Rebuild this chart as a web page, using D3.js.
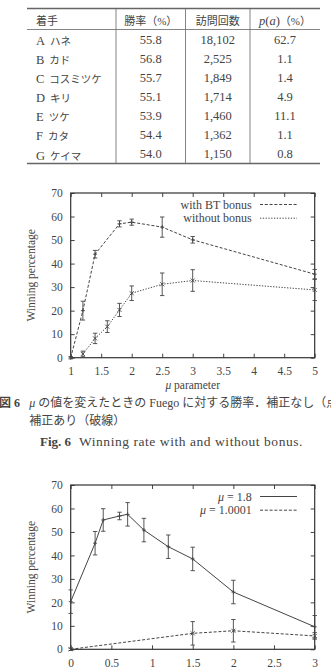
<!DOCTYPE html>
<html>
<head>
<meta charset="utf-8">
<script src="https://cdn.jsdelivr.net/npm/d3@7"></script>
<style>
  body { margin: 0; background: #fff; }
  svg { display: block; }
  text { font-family: "Liberation Serif", "Noto Sans CJK JP", serif; fill: #444; }
</style>
</head>
<body>
<div id="fig"></div>
<script>
// table data
let tableHeader = ["着手", "勝率（%）", "訪問回数", "p(a)（%）"];
let moves = ["A ハネ", "B カド", "C コスミツケ", "D キリ", "E ツケ", "F カタ", "G ケイマ"];
let winRates = ["55.8", "56.8", "55.7", "55.1", "53.9", "54.4", "54.0"];
let visits = ["18,102", "2,525", "1,849", "1,714", "1,460", "1,362", "1,150"];
let probs = ["62.7", "1.1", "1.4", "4.9", "11.1", "1.1", "0.8"];

// fig 6: mu parameter vs winning percentage
let muBT = [1.0001, 1.2, 1.4, 1.8, 2.0, 2.5, 3.0, 5.0];
let winBT = [0, 20, 44, 56.9, 57.6, 55.5, 50.1, 35.5];
let errBT = [0.5, 4, 1.6, 1.3, 1.3, 4.3, 1.4, 2];
let muNoBonus = [1.2, 1.4, 1.6, 1.8, 2.0, 2.5, 3.0, 5.0];
let winNoBonus = [1.6, 8.2, 13.2, 20.3, 27.4, 31.2, 32.8, 28.8];
let errNoBonus = [1.2, 2.2, 2.5, 2.8, 3.1, 4.8, 4.6, 4.5];
let fig6Ticks = [1, 1.5, 2, 2.5, 3, 3.5, 4, 4.5, 5];

// fig 7: bonus parameter vs winning percentage
let bonusA = [0, 0.3, 0.4, 0.6, 0.7, 0.9, 1.2, 1.5, 2.0, 3.0];
let winMu18 = [20.3, 45.2, 55.1, 56.8, 57.5, 50.8, 43.7, 38.5, 24.4, 9.6];
let errMu18 = [5, 5, 4.8, 1.6, 5, 5, 5, 5, 5, 4.8];
let bonusB = [0, 1.5, 2.0, 3.0];
let winMu1 = [0, 6.8, 7.9, 5.7];
let errMu1 = [0.5, 5, 4.8, 1.4];
let fig7Ticks = [0, 0.5, 1, 1.5, 2, 2.5, 3];

let yTicks = [0, 10, 20, 30, 40, 50, 60, 70];

let W = 331, H = 672;
let ink = "#444";

let svg = d3.select("#fig").append("svg").attr("width", W).attr("height", H);

////////////////////////////////////////////////////////////////////////
// table

function drawTable() {
  let left = 27, right = 320, top = 8.5, headBottom = 29.5, bottom = 163.5;
  let colEdges = [left, 116, 185.5, 250, right];
  let rowY = d3.scaleLinear().domain([0, 6]).range([39.3, 154]);
  let g = svg.append("g");

  g.append("line").attr("x1", left).attr("x2", right).attr("y1", top).attr("y2", top)
    .attr("stroke", "#666").attr("stroke-width", 1.6);
  g.append("line").attr("x1", left).attr("x2", right).attr("y1", headBottom).attr("y2", headBottom)
    .attr("stroke", "#666").attr("stroke-width", 0.8);
  g.append("line").attr("x1", left).attr("x2", right).attr("y1", bottom).attr("y2", bottom)
    .attr("stroke", "#666").attr("stroke-width", 1.6);
  colEdges.slice(1, 4).forEach(function(x) {
    g.append("line").attr("x1", x).attr("x2", x).attr("y1", top).attr("y2", bottom)
      .attr("stroke", "#666").attr("stroke-width", 0.8);
  });

  // header
  g.append("text").attr("x", 36).attr("y", 20.7).attr("dy", "0.35em")
    .style("font-size", "11px").text(tableHeader[0]);
  for (let c = 1; c < 4; c++) {
    let cx = (colEdges[c] + colEdges[c + 1]) / 2;
    let t = g.append("text").attr("x", cx).attr("y", 20.7).attr("dy", "0.35em")
      .attr("text-anchor", "middle").style("font-size", "11px");
    if (c === 3) {
      t.append("tspan").style("font-style", "italic").style("font-size", "12.5px").text("p");
      t.append("tspan").style("font-size", "12.5px").text("(");
      t.append("tspan").style("font-style", "italic").style("font-size", "12.5px").text("a");
      t.append("tspan").style("font-size", "12.5px").text(")");
      t.append("tspan").text("（%）");
    } else {
      t.text(tableHeader[c]);
    }
  }

  // body
  moves.forEach(function(m, i) {
    let y = rowY(i);
    let t = g.append("text").attr("x", 36).attr("y", y).attr("dy", "0.35em");
    t.append("tspan").style("font-size", "12.5px").text(m.split(" ")[0]);
    t.append("tspan").attr("dx", 5).style("font-size", "10.5px").text(m.split(" ")[1]);
    [winRates[i], visits[i], probs[i]].forEach(function(v, j) {
      let cx = (colEdges[j + 1] + colEdges[j + 2]) / 2;
      g.append("text").attr("x", cx).attr("y", y).attr("dy", "0.35em")
        .attr("text-anchor", "middle").style("font-size", "12.5px").text(v);
    });
  });
}

////////////////////////////////////////////////////////////////////////
// gnuplot-like chart with mirrored inward ticks

function makePlot(top, bottom, xDomain, xTicks, series, legendNames, xLabel) {
  let left = 70.7, right = 314.7;
  let xScale = d3.scaleLinear().domain(xDomain).range([left, right]);
  let yScale = d3.scaleLinear().domain([0, 70]).range([bottom, top]);
  let g = svg.append("g");
  let fmt = function(d) { return d3.format("")(d); };

  let axes = [
    d3.axisBottom(xScale).tickValues(xTicks).tickSize(-4).tickPadding(9.5).tickFormat(fmt),
    d3.axisTop(xScale).tickValues(xTicks).tickSize(-4).tickFormat(""),
    d3.axisLeft(yScale).tickValues(yTicks).tickSize(-4).tickPadding(8),
    d3.axisRight(yScale).tickValues(yTicks).tickSize(-4).tickFormat("")
  ];
  let trans = ["translate(0," + bottom + ")", "translate(0," + top + ")",
               "translate(" + left + ",0)", "translate(" + right + ",0)"];
  axes.forEach(function(ax, i) {
    let a = g.append("g").attr("transform", trans[i]).call(ax);
    a.select(".domain").remove();
    a.selectAll("line").attr("stroke", ink);
    a.selectAll("text").style("font-size", "11.5px").attr("fill", "#444")
      .style("font-family", "Liberation Serif");
  });

  g.append("rect").attr("x", left).attr("y", top)
    .attr("width", right - left).attr("height", bottom - top)
    .attr("fill", "none").attr("stroke", "#333").attr("stroke-width", 1.2);

  // y label
  g.append("text")
    .attr("transform", "translate(31," + ((top + bottom) / 2) + ") rotate(-90)")
    .attr("text-anchor", "middle").attr("dy", "0.35em")
    .style("font-size", "11.5px").text("Winning percentage");

  if (xLabel) {
    let t = g.append("text").attr("x", (left + right) / 2).attr("y", bottom + 27.5)
      .attr("dy", "0.35em").attr("text-anchor", "middle").style("font-size", "11.5px");
    t.append("tspan").style("font-style", "italic").text("μ");
    t.append("tspan").text(" parameter");
  }

  let line = d3.line().x(function(d) { return xScale(d.x); }).y(function(d) { return yScale(d.y); });

  series.forEach(function(s, k) {
    let pts = s.xs.map(function(x, i) { return { x: x, y: s.ys[i], e: s.es[i] }; });
    g.append("path").datum(pts).attr("d", line)
      .attr("fill", "none").attr("stroke", ink).attr("stroke-width", 1)
      .attr("stroke-dasharray", s.dash);

    // error bars
    g.selectAll(null).data(pts).enter().append("path")
      .attr("d", function(d) {
        let x = xScale(d.x), y0 = yScale(d.y - d.e), y1 = yScale(d.y + d.e);
        return "M" + x + "," + y0 + "V" + y1 +
               "M" + (x - 2.2) + "," + y0 + "H" + (x + 2.2) +
               "M" + (x - 2.2) + "," + y1 + "H" + (x + 2.2);
      })
      .attr("fill", "none").attr("stroke", ink).attr("stroke-width", 0.9);

    // markers
    g.selectAll(null).data(pts).enter().append("path")
      .attr("d", function(d) {
        let x = xScale(d.x), y = yScale(d.y), r = 2;
        if (s.marker === "plus") {
          return "M" + (x - r) + "," + y + "H" + (x + r) + "M" + x + "," + (y - r) + "V" + (y + r);
        }
        return "M" + (x - r) + "," + (y - r) + "L" + (x + r) + "," + (y + r) +
               "M" + (x - r) + "," + (y + r) + "L" + (x + r) + "," + (y - r);
      })
      .attr("fill", "none").attr("stroke", ink).attr("stroke-width", 0.9);

    // legend
    let ly = top + 11.5 + k * 13.7;
    let lt = g.append("text").attr("x", 251.7).attr("y", ly).attr("dy", "0.35em")
      .attr("text-anchor", "end").style("font-size", "12px");
    if (legendNames[k].indexOf("μ") === 0) {
      lt.append("tspan").style("font-style", "italic").text("μ");
      lt.append("tspan").text(legendNames[k].slice(1));
    } else {
      lt.text(legendNames[k]);
    }
    g.append("line").attr("x1", 260).attr("x2", 297).attr("y1", ly).attr("y2", ly)
      .attr("stroke", ink).attr("stroke-width", 1).attr("stroke-dasharray", s.dash);
  });
}

////////////////////////////////////////////////////////////////////////
// draw everything

drawTable();

makePlot(193, 357.7, [1, 5], fig6Ticks, [
  { xs: muBT, ys: winBT, es: errBT, dash: "3,1.8", marker: "plus" },
  { xs: muNoBonus, ys: winNoBonus, es: errNoBonus, dash: "1.3,1.5", marker: "cross" }
], ["with BT bonus", "without bonus"], true);

// caption (the first line runs past the right edge, as in the scanned page)
let cap1 = svg.append("text").attr("x", -1).attr("y", 403).attr("dy", "0.35em").style("font-size", "12px");
cap1.append("tspan").style("font-weight", "bold").text("図 6");
let cap1b = svg.append("text").attr("x", 29.3).attr("y", 403).attr("dy", "0.35em").style("font-size", "12px");
cap1b.append("tspan").style("font-style", "italic").text("μ");
cap1b.append("tspan").text(" の値を変えたときの Fuego に対する勝率．補正なし（点線），");
svg.append("text").attr("x", 29.3).attr("y", 420.5).attr("dy", "0.35em")
  .style("font-size", "12px").text("補正あり（破線）");
svg.append("text").attr("x", 40).attr("y", 441.5).attr("dy", "0.35em")
  .style("font-size", "13px").style("font-weight", "bold").text("Fig. 6");
svg.append("text").attr("x", 79).attr("y", 441.5).attr("dy", "0.35em")
  .style("font-size", "13.5px").style("letter-spacing", "0.55px")
  .text("Winning rate with and without bonus.");

makePlot(485, 649.3, [0, 3], fig7Ticks, [
  { xs: bonusA, ys: winMu18, es: errMu18, dash: null, marker: "plus" },
  { xs: bonusB, ys: winMu1, es: errMu1, dash: "3,1.8", marker: "cross" }
], ["μ = 1.8", "μ = 1.0001"], false);
</script>
</body>
</html>
